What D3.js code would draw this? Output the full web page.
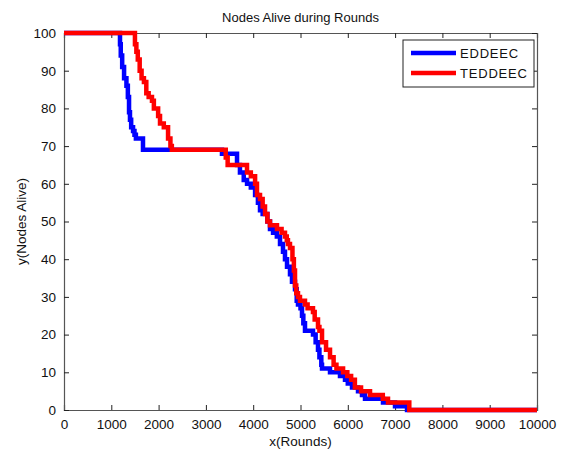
<!DOCTYPE html>
<html>
<head>
<meta charset="utf-8">
<script src="https://cdn.jsdelivr.net/npm/d3@7"></script>
<style>
  html, body { margin: 0; padding: 0; background: #fff; }
  text { font-family: "Liberation Sans", Arial, Helvetica, sans-serif; fill: #111; }
</style>
</head>
<body>
<svg id="chart" width="570" height="452"></svg>
<script>
// ---- data (step points: from round r on, nodes alive = n) ----
const eddeecRounds = [0,1184,1200,1230,1270,1320,1350,1375,1395,1420,1460,1490,1520,1670,3340,3658,3720,3800,3870,3950,4040,4100,4144,4200,4300,4355,4420,4500,4567,4630,4672,4715,4778,4820,4884,4920,4947,5000,5032,5060,5095,5264,5320,5370,5400,5440,5455,5624,5835,5941,6000,6089,6216,6300,6364,6744,6998,7252,10000];
const eddeecNodes  = [100,97,94,91,88,86,83,79,77,75,74,73,72,69,68,65,63,61,60,59,57,55,53,52,50,48,47,46,44,42,40,38,36,34,32,29,28,27,25,23,21,20,18,16,14,12,11,10,9,8,7,6,5,4,3,2,1,0,0];

const teddeecRounds = [0,1500,1530,1560,1600,1640,1690,1740,1790,1860,1900,1990,2030,2110,2200,2250,2280,3420,3460,3869,3950,4040,4080,4144,4200,4250,4300,4355,4503,4600,4672,4710,4735,4778,4830,4860,4884,4910,4947,4989,5095,5150,5264,5300,5370,5400,5455,5540,5624,5700,5760,5900,5990,6070,6150,6280,6470,6740,6850,7300,10000];
const teddeecNodes  = [100,97,95,93,90,88,87,84,83,82,80,78,76,75,72,70,69,67,65,63,62,60,57,56,54,52,50,49,48,47,46,45,44,43,40,37,33,31,30,29,28,27,26,24,22,21,18,16,14,12,11,10,9,8,6,5,4,3,2,0,0];

const seriesNames = ["EDDEEC", "TEDDEEC"];
const seriesColors = ["#0000ff", "#ff0000"];
const xTicks = [0,1000,2000,3000,4000,5000,6000,7000,8000,9000,10000];
const yTicks = [0,10,20,30,40,50,60,70,80,90,100];
const titleText = "Nodes Alive during Rounds";
const xLabel = "x(Rounds)";
const yLabel = "y(Nodes Alive)";

// ---- layout ----
const svg = d3.select("#chart");
const L = 64, R = 537, T = 33, B = 410;
const x = d3.scaleLinear().domain([0, 10000]).range([L, R]);
const y = d3.scaleLinear().domain([0, 100]).range([B, T]);

const series = [
  { name: seriesNames[0], color: seriesColors[0], pts: eddeecRounds.map((r, i) => [r, eddeecNodes[i]]) },
  { name: seriesNames[1], color: seriesColors[1], pts: teddeecRounds.map((r, i) => [r, teddeecNodes[i]]) }
];

const tickLen = 5;
const fontSize = 13.5;

// Axes box
svg.append("rect").attr("x", L).attr("y", T).attr("width", R - L).attr("height", B - T)
  .attr("fill", "#fff").attr("stroke", "none");

// Bottom axis
const gx = svg.append("g").attr("transform", `translate(0,${B})`)
  .call(d3.axisBottom(x).tickValues(xTicks).tickFormat(d3.format("d")).tickSize(-tickLen).tickPadding(9));
// Top axis ticks
const gxt = svg.append("g").attr("transform", `translate(0,${T})`)
  .call(d3.axisTop(x).tickValues(xTicks).tickFormat("").tickSize(-tickLen));
// Left axis
const gy = svg.append("g").attr("transform", `translate(${L},0)`)
  .call(d3.axisLeft(y).tickValues(yTicks).tickFormat(d3.format("d")).tickSize(-tickLen).tickPadding(8));
// Right axis ticks
const gyr = svg.append("g").attr("transform", `translate(${R},0)`)
  .call(d3.axisRight(y).tickValues(yTicks).tickFormat("").tickSize(-tickLen));

[gx, gxt, gy, gyr].forEach(g => {
  g.select(".domain").attr("stroke", "#555").attr("stroke-width", 1.2);
  g.selectAll(".tick line").attr("stroke", "#222").attr("stroke-width", 1);
  g.selectAll(".tick text").attr("font-size", fontSize)
    .attr("font-family", "'Liberation Sans', Arial, sans-serif").attr("fill", "#111");
});

// Lines
const line = d3.line().x(d => x(d[0])).y(d => y(d[1])).curve(d3.curveStepAfter);
series.forEach(s => {
  svg.append("path").datum(s.pts).attr("d", line)
    .attr("fill", "none").attr("stroke", s.color).attr("stroke-width", 4.5)
    .attr("stroke-linejoin", "miter").attr("stroke-linecap", "butt");
});

// Title and labels
svg.append("text").attr("x", (L + R) / 2).attr("y", 22).attr("text-anchor", "middle")
  .attr("font-size", 13).text(titleText);
svg.append("text").attr("x", (L + R) / 2).attr("y", 446).attr("text-anchor", "middle")
  .attr("font-size", fontSize).text(xLabel);
svg.append("text").attr("transform", `translate(26,${(T + B) / 2}) rotate(-90)`)
  .attr("text-anchor", "middle").attr("font-size", fontSize).text(yLabel);

// Legend
const lg = svg.append("g");
lg.append("rect").attr("x", 403).attr("y", 40).attr("width", 131).attr("height", 47)
  .attr("fill", "#fff").attr("stroke", "#222").attr("stroke-width", 1);
series.forEach((s, i) => {
  const yy = 53 + i * 20;
  lg.append("line").attr("x1", 411).attr("x2", 456).attr("y1", yy).attr("y2", yy)
    .attr("stroke", s.color).attr("stroke-width", 4.5);
  lg.append("text").attr("x", 460).attr("y", yy + 5).attr("font-size", 13)
    .attr("letter-spacing", 0.8).text(s.name);
});
</script>
</body>
</html>
